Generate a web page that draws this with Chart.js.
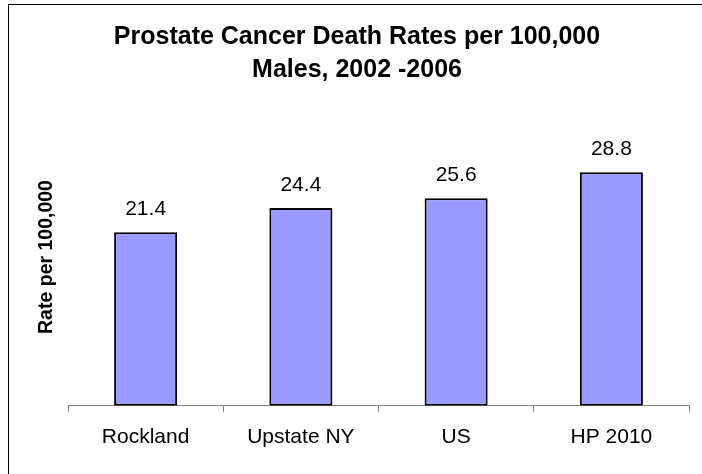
<!DOCTYPE html>
<html>
<head>
<meta charset="utf-8">
<script src="https://cdn.jsdelivr.net/npm/chart.js@4/dist/chart.umd.min.js"></script>
<style>
  html, body { margin: 0; padding: 0; background: #fff; }
  canvas { display: block; }
</style>
</head>
<body>
<canvas id="grafico" width="702" height="474"></canvas>
<script>
const categorias = ["Rockland", "Upstate NY", "US", "HP 2010"]
const tasas = [21.4, 24.4, 25.6, 28.8]
const tituloLineas = ["Prostate Cancer Death Rates per 100,000", "Males, 2002 -2006"]
const tituloEjeY = "Rate per 100,000"

const fuente = 'Arial, "Liberation Sans", sans-serif'

// marco, titulo, titulo del eje y y etiquetas de valores
const extras = {
    id: "extras",
    afterDraw(chart) {
        const ctx = chart.ctx
        ctx.save()
        // marco
        ctx.strokeStyle = "#000"
        ctx.lineWidth = 1
        ctx.strokeRect(8.5, 4.5, 800, 600)

        // titulo
        ctx.fillStyle = "#000"
        ctx.textAlign = "center"
        ctx.textBaseline = "alphabetic"
        ctx.font = "bold 25px " + fuente
        ctx.fillText(tituloLineas[0], 357, 44)
        ctx.fillText(tituloLineas[1], 357, 77)

        // titulo eje y
        ctx.save()
        ctx.translate(47, 257)
        ctx.rotate(-Math.PI / 2)
        ctx.textBaseline = "middle"
        ctx.font = "bold 19.5px " + fuente
        ctx.fillText(tituloEjeY, 0, 0)
        ctx.restore()

        // etiquetas sobre las barras
        ctx.font = "21px " + fuente
        ctx.textBaseline = "alphabetic"
        const meta = chart.getDatasetMeta(0)
        meta.data.forEach((barra, i) => {
            ctx.fillText(tasas[i].toFixed(1), barra.x, barra.y - 17)
        })
        ctx.restore()
    }
}

new Chart(document.getElementById("grafico").getContext("2d"), {
    type: "bar",
    data: {
        labels: categorias,
        datasets: [{
            data: tasas,
            backgroundColor: "#9999FF",
            borderColor: "#000",
            borderWidth: 2,
            borderSkipped: false,
            barPercentage: 0.406,
            categoryPercentage: 1
        }]
    },
    options: {
        responsive: false,
        animation: false,
        devicePixelRatio: 1,
        layout: { padding: { left: 68, right: 13, top: 122, bottom: 11 } },
        plugins: {
            legend: { display: false },
            title: { display: false },
            tooltip: { enabled: false }
        },
        scales: {
            x: {
                grid: { drawOnChartArea: false, drawTicks: true, tickLength: 6, color: "#808080", offset: true },
                border: { display: true, color: "#808080", width: 1 },
                ticks: { color: "#000", padding: 13, font: { family: fuente, size: 21 } }
            },
            y: {
                display: false,
                min: 0,
                max: 35
            }
        }
    },
    plugins: [extras]
})
</script>
</body>
</html>
